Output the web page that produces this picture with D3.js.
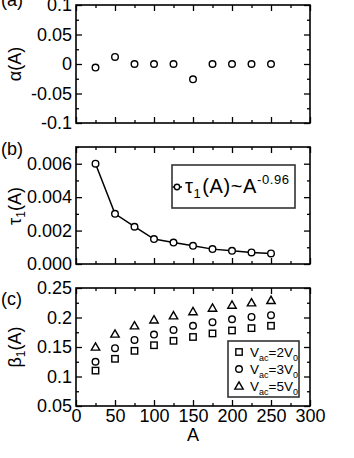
<!DOCTYPE html>
<html><head><meta charset="utf-8">
<script src="https://cdn.jsdelivr.net/npm/d3@7"></script>
<style>
html,body{margin:0;padding:0;background:#fff;}
svg{display:block;font-family:"Liberation Sans",Arial,Helvetica,sans-serif;}
</style></head>
<body>
<svg id="c" width="354" height="458"></svg>
<script>
// ---- data ----
const A = [25, 50, 75, 100, 125, 150, 175, 200, 225, 250];
const alphaVals = [-0.006, 0.012, 0, 0, 0, -0.026, 0, 0, 0, 0];
const tauVals = [0.0060, 0.0030, 0.00223, 0.00149, 0.00128, 0.00109, 0.00089, 0.00079, 0.00069, 0.00063];
const beta2 = [0.110, 0.130, 0.1435, 0.153, 0.1605, 0.167, 0.173, 0.178, 0.182, 0.186];
const beta3 = [0.125, 0.148, 0.162, 0.171, 0.179, 0.186, 0.192, 0.197, 0.201, 0.204];
const beta5 = [0.150, 0.172, 0.186, 0.196, 0.203, 0.210, 0.216, 0.221, 0.225, 0.229];
const xTicks = [0, 50, 100, 150, 200, 250, 300];
const xMinor = [25, 75, 125, 175, 225, 275];
const aTicks = [-0.1, -0.05, 0, 0.05, 0.1];
const aTickLabels = ["-0.1", "-0.05", "0", "0.05", "0.1"];
const aMinor = [-0.075, -0.025, 0.025, 0.075];
const bTicks = [0, 0.002, 0.004, 0.006];
const bTickLabels = ["0.000", "0.002", "0.004", "0.006"];
const bMinor = [0.001, 0.003, 0.005, 0.007];
const cTicks = [0.05, 0.1, 0.15, 0.2, 0.25];
const cTickLabels = ["0.05", "0.1", "0.15", "0.2", "0.25"];
const cMinor = [0.075, 0.125, 0.175, 0.225];
const legendB = ["τ", "1", "(A)~A", "-0.96"];
const legendC = ["2", "3", "5"];

const svg = d3.select("#c");
const FS = 18;
const L = 76, R = 310;
const x = d3.scaleLinear().domain([0, 300]).range([L, R]);

function panel(y0, y1, ydom, ticks, labels, minor, showX) {
  const y = d3.scaleLinear().domain(ydom).range([y1, y0]);
  const g = svg.append("g");
  const mk = (gen, tr) => g.append("g").attr("transform", tr).call(gen)
      .call(s => s.select(".domain").remove())
      .call(s => s.selectAll("line").attr("stroke", "#000").attr("stroke-width", 1.3))
      .call(s => s.selectAll("text").attr("font-size", FS).attr("font-family", "Liberation Sans, Arial, sans-serif").attr("fill", "#000"));
  mk(d3.axisLeft(y).tickValues(ticks).tickFormat((d, i) => labels[i]).tickSizeInner(-6).tickSizeOuter(0).tickPadding(4), `translate(${L},0)`);
  mk(d3.axisLeft(y).tickValues(minor).tickFormat("").tickSizeInner(-3).tickSizeOuter(0), `translate(${L},0)`);
  mk(d3.axisRight(y).tickValues(ticks).tickFormat("").tickSizeInner(-6).tickSizeOuter(0), `translate(${R},0)`);
  mk(d3.axisRight(y).tickValues(minor).tickFormat("").tickSizeInner(-3).tickSizeOuter(0), `translate(${R},0)`);
  mk(d3.axisTop(x).tickValues(xTicks).tickFormat("").tickSizeInner(-6).tickSizeOuter(0), `translate(0,${y0})`);
  mk(d3.axisTop(x).tickValues(xMinor).tickFormat("").tickSizeInner(-3).tickSizeOuter(0), `translate(0,${y0})`);
  mk(d3.axisBottom(x).tickValues(xTicks).tickFormat(showX ? d3.format("d") : "").tickSizeInner(-6).tickSizeOuter(0).tickPadding(3), `translate(0,${y1})`);
  mk(d3.axisBottom(x).tickValues(xMinor).tickFormat("").tickSizeInner(-3).tickSizeOuter(0), `translate(0,${y1})`);
  g.append("rect").attr("x", L).attr("y", y0).attr("width", R - L).attr("height", y1 - y0)
    .attr("fill", "none").attr("stroke", "#000").attr("stroke-width", 1.6);
  return {g, y};
}

function circ(g, cx, cy, r) {
  g.append("circle").attr("cx", cx).attr("cy", cy).attr("r", r || 3.3)
    .attr("fill", "#fff").attr("stroke", "#000").attr("stroke-width", 1.4);
}
function sq(g, cx, cy) {
  g.append("rect").attr("x", cx - 3.2).attr("y", cy - 3.2).attr("width", 6.4).attr("height", 6.4)
    .attr("fill", "none").attr("stroke", "#000").attr("stroke-width", 1.4);
}
function tri(g, cx, cy) {
  const s = 4.2;
  g.append("path").attr("d", `M${cx},${cy - s}L${cx + s},${cy + s * 0.75}L${cx - s},${cy + s * 0.75}Z`)
    .attr("fill", "none").attr("stroke", "#000").attr("stroke-width", 1.4);
}

// Panel (a)
const pa = panel(5, 123, [-0.1, 0.1], aTicks, aTickLabels, aMinor, false);
A.forEach((a, i) => circ(pa.g, x(a), pa.y(alphaVals[i])));

// Panel (b)
const pb = panel(147, 264, [0, 0.007], bTicks, bTickLabels, bMinor, false);
pb.g.append("path").datum(A.map((a, i) => [a, tauVals[i]]))
  .attr("d", d3.line().x(d => x(d[0])).y(d => pb.y(d[1])))
  .attr("fill", "none").attr("stroke", "#000").attr("stroke-width", 1.5);
A.forEach((a, i) => circ(pb.g, x(a), pb.y(tauVals[i])));
// legend b
pb.g.append("rect").attr("x", 172).attr("y", 165).attr("width", 123).attr("height", 43)
  .attr("fill", "#fff").attr("stroke", "#333").attr("stroke-width", 1.6);
pb.g.append("line").attr("x1", 172.5).attr("x2", 182).attr("y1", 187).attr("y2", 187).attr("stroke", "#000").attr("stroke-width", 1.5);
circ(pb.g, 177, 187, 2.7);
const tb = pb.g.append("text").attr("x", 185).attr("y", 193).attr("font-size", 20).attr("letter-spacing", 0.6);
tb.append("tspan").text(legendB[0]);
tb.append("tspan").attr("font-size", 13).attr("dy", 5).text(legendB[1]);
tb.append("tspan").attr("dy", -5).attr("dx", 1).text(legendB[2]);
tb.append("tspan").attr("font-size", 13).attr("dy", -9).text(legendB[3]);

// Panel (c)
const pc = panel(288, 406, [0.05, 0.25], cTicks, cTickLabels, cMinor, true);
A.forEach((a, i) => sq(pc.g, x(a), pc.y(beta2[i])));
A.forEach((a, i) => circ(pc.g, x(a), pc.y(beta3[i])));
A.forEach((a, i) => tri(pc.g, x(a), pc.y(beta5[i])));
// legend c
pc.g.append("rect").attr("x", 228).attr("y", 341).attr("width", 71).attr("height", 56)
  .attr("fill", "#fff").attr("stroke", "#333").attr("stroke-width", 1.6);
const legMarks = [sq, circ, tri];
const legY = [352, 369, 386];
legendC.forEach((n, i) => {
  legMarks[i](pc.g, 239, legY[i]);
  const t = pc.g.append("text").attr("x", 250).attr("y", legY[i] + 5).attr("font-size", 13.5);
  t.append("tspan").text("V");
  t.append("tspan").attr("font-size", 9).attr("dy", 4).text("ac");
  t.append("tspan").attr("dy", -4).text("=" + n + "V");
  t.append("tspan").attr("font-size", 9).attr("dy", 4).text("0");
});

// axis title
svg.append("text").attr("x", x(150)).attr("y", 441).attr("text-anchor", "middle").attr("font-size", FS).text("A");

// y labels
function ylab(cy, main, sub, rest) {
  const t = svg.append("text").attr("transform", `translate(21,${cy}) rotate(-90)`).attr("text-anchor", "middle").attr("font-size", FS);
  t.append("tspan").text(main);
  if (sub) {
    t.append("tspan").attr("font-size", 12).attr("dy", 4).text(sub);
    t.append("tspan").attr("dy", -4).text(rest);
  }
}
ylab(64, "α(A)");
ylab(206, "τ", "1", "(A)");
ylab(347, "β", "1", "(A)");

// panel letters
svg.append("text").attr("x", 1).attr("y", 6).attr("font-size", FS).text("(a)");
svg.append("text").attr("x", 1).attr("y", 155).attr("font-size", FS).text("(b)");
svg.append("text").attr("x", 1).attr("y", 305).attr("font-size", FS).text("(c)");
</script>
</body></html>
